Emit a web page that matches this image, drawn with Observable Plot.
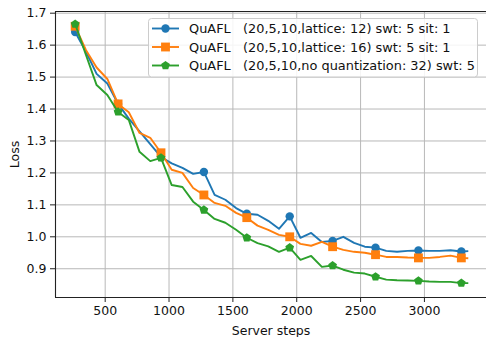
<!DOCTYPE html>
<html>
<head>
<meta charset="utf-8">
<script src="https://cdn.jsdelivr.net/npm/d3@7"></script>
<script src="https://cdn.jsdelivr.net/npm/@observablehq/plot@0.6"></script>
<style>
  html, body { margin: 0; padding: 0; background: #fff; }
  #chart { position: relative; width: 486px; height: 337px; }
  svg { font-family: "DejaVu Sans", sans-serif; }
</style>
</head>
<body>
<div id="chart"></div>
<script>
// ---- data ----
const steps = [265, 349, 433, 517, 601, 685, 769, 853, 937, 1021, 1105, 1189, 1273, 1357, 1441, 1525, 1609, 1693, 1777, 1861, 1945, 2029, 2113, 2197, 2281, 2365, 2449, 2533, 2617, 2701, 2785, 2869, 2953, 3037, 3121, 3205, 3289, 3336];
const lossLattice12 = [1.641, 1.58, 1.51, 1.48, 1.416, 1.37, 1.33, 1.29, 1.25, 1.23, 1.216, 1.197, 1.203, 1.131, 1.116, 1.09, 1.072, 1.069, 1.05, 1.025, 1.064, 0.997, 1.012, 0.984, 0.987, 1.0, 0.981, 0.969, 0.966, 0.956, 0.953, 0.956, 0.957, 0.956, 0.956, 0.958, 0.954, 0.955];
const lossLattice16 = [1.659, 1.585, 1.53, 1.494, 1.416, 1.39, 1.325, 1.31, 1.263, 1.21, 1.2, 1.153, 1.131, 1.106, 1.097, 1.075, 1.06, 1.035, 1.022, 1.006, 1.0, 0.978, 0.972, 0.984, 0.969, 0.959, 0.953, 0.95, 0.944, 0.937, 0.937, 0.935, 0.934, 0.934, 0.937, 0.941, 0.934, 0.933];
const lossNoQuant = [1.666, 1.57, 1.475, 1.444, 1.391, 1.366, 1.266, 1.237, 1.247, 1.162, 1.156, 1.11, 1.084, 1.056, 1.044, 1.022, 0.997, 0.98, 0.97, 0.953, 0.966, 0.928, 0.94, 0.906, 0.91, 0.897, 0.888, 0.885, 0.875, 0.866, 0.864, 0.863, 0.862, 0.86, 0.859, 0.859, 0.855, 0.855];
const seriesNames = [
  "QuAFL   (20,5,10,lattice: 12) swt: 5 sit: 1",
  "QuAFL   (20,5,10,lattice: 16) swt: 5 sit: 1",
  "QuAFL   (20,5,10,no quantization: 32) swt: 5"
];
const xTicks = [500, 1000, 1500, 2000, 2500, 3000];
const yTicks = [0.9, 1.0, 1.1, 1.2, 1.3, 1.4, 1.5, 1.6, 1.7];
const xDomain = [111, 3486];
const yDomain = [0.810, 1.7053];

// ---- styles ----
const colors = ["#1f77b4", "#ff7f0e", "#2ca02c"];
const markEvery = 4;
const pentagon = {
  draw(ctx, size) {
    const R = Math.sqrt(size / Math.PI) * 1.15;
    for (let i = 0; i < 5; i++) {
      const a = -Math.PI / 2 + i * 2 * Math.PI / 5;
      const px = R * Math.cos(a), py = R * Math.sin(a);
      if (i) ctx.lineTo(px, py); else ctx.moveTo(px, py);
    }
    ctx.closePath();
  }
};
const symbols = ["circle", "square", pentagon];
const symbolR = [4.2, 5.0, 4.0];

const allSeries = [lossLattice12, lossLattice16, lossNoQuant];
const tables = allSeries.map((vals, s) => steps.map((x, i) => ({x, y: vals[i], i, s})));

const marks = [
  Plot.gridX(xTicks, {stroke: "#b8b8b8", strokeOpacity: 1, strokeWidth: 1}),
  Plot.gridY(yTicks, {stroke: "#b8b8b8", strokeOpacity: 1, strokeWidth: 1}),
  Plot.axisX(xTicks, {tickSize: 5, tickPadding: 4, fontSize: 12.5, stroke: "#222", fill: "#111",
    tickFormat: d3.format("d"),
    label: "Server steps", labelAnchor: "center", labelOffset: 37, labelArrow: "none"}),
  Plot.axisY(yTicks, {tickSize: 5, tickPadding: 4, fontSize: 12.5, stroke: "#222", fill: "#111",
    tickFormat: d3.format(".1f"), label: "Loss", labelAnchor: "center", labelOffset: 45, labelArrow: "none"}),
];
tables.forEach((t, s) => {
  marks.push(Plot.line(t, {x: "x", y: "y", stroke: colors[s], strokeWidth: 1.9, strokeLinecap: "square", strokeLinejoin: "round"}));
  marks.push(Plot.dot(t.filter(d => d.i % markEvery === 0), {x: "x", y: "y", symbol: symbols[s], r: symbolR[s], fill: colors[s], stroke: "none"}));
});
marks.push(Plot.ruleX([xDomain[0]], {stroke: "#222", strokeWidth: 1.1}));
marks.push(Plot.ruleY([yDomain[0]], {stroke: "#222", strokeWidth: 1.1}));
marks.push(Plot.ruleY([yDomain[1]], {stroke: "#222", strokeWidth: 1.1}));

const chart = Plot.plot({
  width: 486,
  height: 337,
  marginLeft: 55,
  marginRight: 0,
  marginTop: 11,
  marginBottom: 40,
  style: {fontFamily: "DejaVu Sans, sans-serif", fontSize: "12.5px", background: "#fff", color: "#111"},
  x: {domain: xDomain, label: null},
  y: {domain: yDomain, label: null},
  marks
});
document.getElementById("chart").appendChild(chart);

// ---- legend (inside the axes, upper right) ----
const svg = d3.select(chart);
const lg = svg.append("g").attr("text-anchor", "start");
lg.append("rect").attr("x", 148.5).attr("y", 18.5).attr("width", 329).attr("height", 58.5)
  .attr("rx", 3).attr("fill", "#fff").attr("fill-opacity", 0.85).attr("stroke", "#cccccc").attr("stroke-width", 1);
const rowY = [28.5, 47, 65.5];
seriesNames.forEach((name, s) => {
  const y = rowY[s];
  lg.append("line").attr("x1", 152).attr("x2", 179).attr("y1", y).attr("y2", y)
    .attr("stroke", colors[s]).attr("stroke-width", 1.9);
  const type = typeof symbols[s] === "string" ? (symbols[s] === "circle" ? d3.symbolCircle : d3.symbolSquare) : symbols[s];
  lg.append("path").attr("d", d3.symbol(type, Math.PI * symbolR[s] * symbolR[s])())
    .attr("transform", `translate(165.5,${y})`).attr("fill", colors[s]);
  lg.append("text").attr("x", 189).attr("y", y).attr("dy", "0.35em")
    .attr("text-anchor", "start")
    .style("white-space", "pre").attr("xml:space", "preserve")
    .attr("font-size", 12.9).attr("fill", "#111").text(name);
});
</script>
</body>
</html>
